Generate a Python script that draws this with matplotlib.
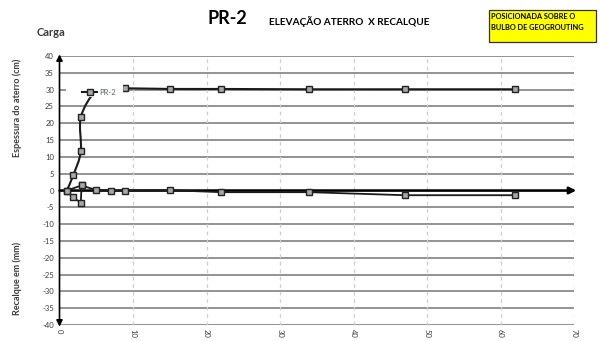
import numpy as np
import matplotlib
matplotlib.use("Agg")
import matplotlib.pyplot as plt
from matplotlib.path import Path
from matplotlib.patches import PathPatch, Rectangle
from matplotlib.lines import Line2D

plt.rcParams["font.family"] = ["Lato", "DejaVu Sans"]

# Fill thickness (cm) over time
fill_x = [1.0, 1.9, 2.9, 2.9, 4.9, 7.0, 8.9, 15.0, 22.0, 34.0, 47.0, 62.0]
fill_y = [0.0, 4.7, 11.6, 21.8, 29.5, 30.2, 30.4, 30.2, 30.2, 30.1, 30.1, 30.1]

# Settlement (mm) over time
settle_x = [3.0, 1.0, 1.8, 2.9, 3.0, 4.9, 7.0, 8.9, 15.0, 22.0, 34.0, 47.0, 62.0]
settle_y = [1.5, 0.0, -2.0, -3.6, 1.5, 0.2, 0.0, 0.0, 0.1, -0.5, -0.5, -1.4, -1.4]

x_ticks = [0, 10, 20, 30, 40, 50, 60, 70]
y_ticks = list(range(-40, 41, 5))

series_name = "PR-2"
title_main = "PR-2"
title_sub = "ELEVAÇÃO ATERRO  X RECALQUE"
note_text = "POSICIONADA SOBRE O\nBULBO DE GEOGROUTING"

LINE = "#1a1a1a"
TXT = "#3a3a3a"


def smooth_path(xs, ys):
    """Cubic Bezier path through the points (Catmull-Rom style tangents)."""
    pts = np.column_stack([xs, ys]).astype(float)
    n = len(pts)
    verts = [pts[0]]
    codes = [Path.MOVETO]
    for i in range(n - 1):
        p0 = pts[i - 1] if i > 0 else pts[i]
        p1 = pts[i]
        p2 = pts[i + 1]
        p3 = pts[i + 2] if i + 2 < n else pts[i + 1]
        c1 = p1 + (p2 - p0) / 6.0
        c2 = p2 - (p3 - p1) / 6.0
        verts += [c1, c2, p2]
        codes += [Path.CURVE4] * 3
    return Path(verts, codes)


fig = plt.figure(figsize=(6.01, 3.41), dpi=100)
ax = fig.add_axes([59.5 / 601, 16 / 341, 514.5 / 601, 269 / 341])
ax.set_xlim(0, 70)
ax.set_ylim(-40, 40)

for s in ax.spines.values():
    s.set_visible(False)

# grid: solid horizontal, dashed vertical
for yv in y_ticks:
    ax.axhline(yv, color="#8a8a8a", lw=1.3, zorder=1)
for xv in x_ticks[1:]:
    ax.axvline(xv, color="#cfcfcf", lw=0.9, ls=(0, (3, 3)), zorder=1)

ax.set_xticks(x_ticks)
ax.set_yticks(y_ticks)
ax.set_xticklabels([str(v) for v in x_ticks], rotation=270, fontsize=5.5, color=TXT)
ax.set_yticklabels([str(v) for v in y_ticks], fontsize=5.5, color=TXT)
ax.tick_params(axis="both", length=0, pad=4)
ax.tick_params(axis="x", pad=3)

# axes arrows
ax.annotate("", xy=(0, 40.5), xytext=(0, -40.5),
            arrowprops=dict(arrowstyle="<|-|>", color="black", lw=1.2,
                            mutation_scale=9, shrinkA=0, shrinkB=0),
            annotation_clip=False, zorder=6)
ax.annotate("", xy=(70.3, 0), xytext=(0, 0),
            arrowprops=dict(arrowstyle="-|>", color="black", lw=1.8,
                            mutation_scale=10, shrinkA=0, shrinkB=0),
            annotation_clip=False, zorder=2)

# series
ax.add_patch(PathPatch(smooth_path(fill_x, fill_y), fill=False,
                       edgecolor=LINE, lw=1.5, zorder=3))
ax.plot(settle_x, settle_y, color=LINE, lw=1.3, zorder=3)

mk = dict(marker="s", ms=3.8, mfc="#a8a8a8", mec="#222222", mew=1.0,
          ls="none", zorder=4)
ax.plot(fill_x, fill_y, **mk)
ax.plot(settle_x, settle_y, **mk)

# legend area (white panel over the plot, as in the spreadsheet chart)
ax.add_patch(Rectangle((0.9, 27.9), 7.75, 4.0, facecolor="white",
                       edgecolor="none", zorder=4.5))
handle = Line2D([], [], color=LINE, lw=1.5, marker="s", ms=3.8,
                mfc="#a8a8a8", mec="#222222", mew=1.0)
leg = ax.legend([handle], [series_name], loc="center left",
                bbox_to_anchor=(0.044, 0.866), fontsize=5.5, frameon=False,
                handlelength=2.0, handletextpad=0.3, borderpad=0.0,
                borderaxespad=0.0, labelcolor="#556070")
leg.set_zorder(5)

# text
fig.text(17 / 601, 1 - 108 / 341, "Espessura do aterro (cm)", rotation=90,
         ha="center", va="center", fontsize=6.5, fontweight="bold", color=TXT)
fig.text(17 / 601, 1 - 278 / 341, "Recalque em (mm)", rotation=90,
         ha="center", va="center", fontsize=6.5, fontweight="bold", color=TXT)
fig.text(37 / 601, 1 - 33 / 341, "Carga", ha="left", va="center",
         fontsize=8, fontweight="bold", color=TXT)
fig.text(207 / 601, 1 - 19 / 341, title_main, ha="left", va="center",
         fontsize=13, fontweight="bold", color="black")
fig.text(269 / 601, 1 - 22 / 341, title_sub, ha="left", va="center",
         fontsize=7.2, fontweight="bold", color="black")

fig.patches.append(Rectangle((489 / 601, 1 - 42 / 341), 107 / 601, 32 / 341,
                             transform=fig.transFigure, facecolor="#ffff00",
                             edgecolor="#333333", lw=0.9))
fig.text(491 / 601, 1 - 22 / 341, note_text, ha="left", va="center",
         fontsize=5.3, fontweight="bold", color="black", linespacing=1.6)

fig.savefig("out.png", dpi=100)
